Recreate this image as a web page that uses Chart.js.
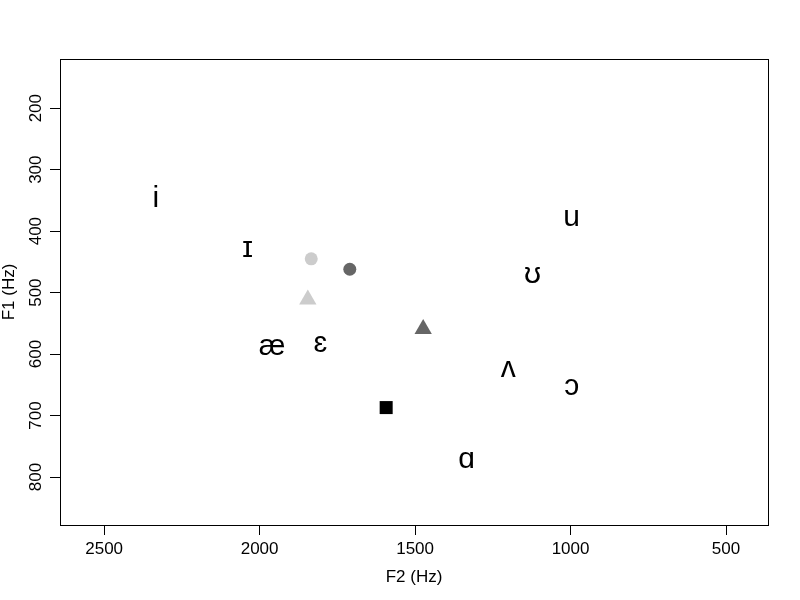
<!DOCTYPE html>
<html><head><meta charset="utf-8">
<script src="https://cdn.jsdelivr.net/npm/chart.js@4"></script>
<style>html,body{margin:0;padding:0;background:#fff}canvas{display:block}</style>
</head><body>
<canvas id="c" width="800" height="600"></canvas>
<script>
// Vowel symbols (F2, F1 in Hz)
const vowelLabels = ['i', 'ɪ', 'ɛ', 'æ', 'ɑ', 'ʌ', 'ɔ', 'ʊ', 'u'];
const vowelF2 = [2334, 2039, 1805, 1960, 1334, 1200, 996, 1122, 997];
const vowelF1 = [343, 429, 583, 588, 773, 625, 654, 471, 379];

// Marker points
const lightCircleF2 = [1834];
const lightCircleF1 = [445];
const darkCircleF2 = [1710];
const darkCircleF1 = [462];
const lightTriangleF2 = [1845];
const lightTriangleF1 = [511];
const darkTriangleF2 = [1474];
const darkTriangleF1 = [559];
const squareF2 = [1593];
const squareF1 = [687];

// Axes
const xTicks = [500, 1000, 1500, 2000, 2500];
const yTicks = [200, 300, 400, 500, 600, 700, 800];
const xRange = [365, 2642];
const yRange = [120, 878];
const xTitle = 'F2 (Hz)';
const yTitle = 'F1 (Hz)';

const pts = (xs, ys) => xs.map((x, i) => ({x: x, y: ys[i]}));
const FONT = "'Liberation Sans', Arial, sans-serif";
const FS = 17;

const boxPlugin = {
  id: 'box',
  afterDraw(chart) {
    const {ctx, chartArea: a} = chart;
    ctx.save();
    ctx.strokeStyle = '#000';
    ctx.lineWidth = 1;
    ctx.strokeRect(Math.round(a.left) + 0.5, Math.round(a.top) + 0.5,
      Math.round(a.right - a.left), Math.round(a.bottom - a.top));
    ctx.restore();
  }
};

const vowelTextPlugin = {
  id: 'vowelText',
  afterDatasetsDraw(chart) {
    const {ctx} = chart;
    chart.data.datasets.forEach((ds, di) => {
      if (!ds.textLabels) return;
      const meta = chart.getDatasetMeta(di);
      ctx.save();
      ctx.fillStyle = '#000';
      ctx.font = '30px ' + FONT;
      ctx.textAlign = 'center';
      ctx.textBaseline = 'alphabetic';
      meta.data.forEach((el, i) => {
        const t = ds.textLabels[i];
        const m = ctx.measureText(t);
        const asc = m.actualBoundingBoxAscent, desc = m.actualBoundingBoxDescent;
        ctx.fillText(t, el.x, el.y + (asc - desc) / 2);
      });
      ctx.restore();
    });
  }
};

new Chart(document.getElementById('c'), {
  type: 'scatter',
  data: {
    datasets: [
      {label: 'vowels', data: pts(vowelF2, vowelF1), textLabels: vowelLabels, pointRadius: 0, pointHoverRadius: 0},
      {label: 'a', data: pts(lightCircleF2, lightCircleF1), pointStyle: 'circle', pointRadius: 6.5, backgroundColor: '#cccccc', borderWidth: 0},
      {label: 'b', data: pts(darkCircleF2, darkCircleF1), pointStyle: 'circle', pointRadius: 6.5, backgroundColor: '#666666', borderWidth: 0},
      {label: 'c', data: pts(lightTriangleF2, lightTriangleF1), pointStyle: 'triangle', pointRadius: 10, backgroundColor: '#cccccc', borderWidth: 0},
      {label: 'd', data: pts(darkTriangleF2, darkTriangleF1), pointStyle: 'triangle', pointRadius: 10, backgroundColor: '#666666', borderWidth: 0},
      {label: 'e', data: pts(squareF2, squareF1), pointStyle: 'rect', pointRadius: 9.2, backgroundColor: '#000000', borderWidth: 0}
    ]
  },
  options: {
    responsive: false,
    animation: false,
    events: [],
    layout: {padding: {top: 59, right: 32, left: 0, bottom: 0}},
    plugins: {legend: {display: false}, tooltip: {enabled: false}},
    scales: {
      x: {
        type: 'linear', position: 'bottom', reverse: true,
        min: xRange[0], max: xRange[1],
        afterBuildTicks: s => { s.ticks = xTicks.map(v => ({value: v})); },
        afterFit: s => { s.height = 75; },
        grid: {display: true, drawOnChartArea: false, drawTicks: true, tickLength: 10, color: '#000', lineWidth: 1},
        border: {display: true, color: '#000', width: 1},
        ticks: {color: '#000', font: {family: FONT, size: FS}, padding: 4, maxRotation: 0, minRotation: 0, callback: v => String(v)},
        title: {display: true, text: xTitle, color: '#000', font: {family: FONT, size: FS}, padding: {top: 0, bottom: 12}}
      },
      y: {
        type: 'linear', position: 'left', reverse: true,
        min: yRange[0], max: yRange[1],
        afterBuildTicks: s => { s.ticks = yTicks.map(v => ({value: v})); },
        afterFit: s => { s.width = 60; },
        grid: {display: true, drawOnChartArea: false, drawTicks: true, tickLength: 10, color: '#000', lineWidth: 1},
        border: {display: true, color: '#000', width: 1},
        ticks: {color: '#000', font: {family: FONT, size: FS}, padding: 0, minRotation: 90, maxRotation: 90, crossAlign: 'center', callback: v => String(v)},
        title: {display: true, text: yTitle, color: '#000', font: {family: FONT, size: FS}, padding: {top: -1, bottom: 0}}
      }
    }
  },
  plugins: [boxPlugin, vowelTextPlugin]
});
</script>
</body></html>
